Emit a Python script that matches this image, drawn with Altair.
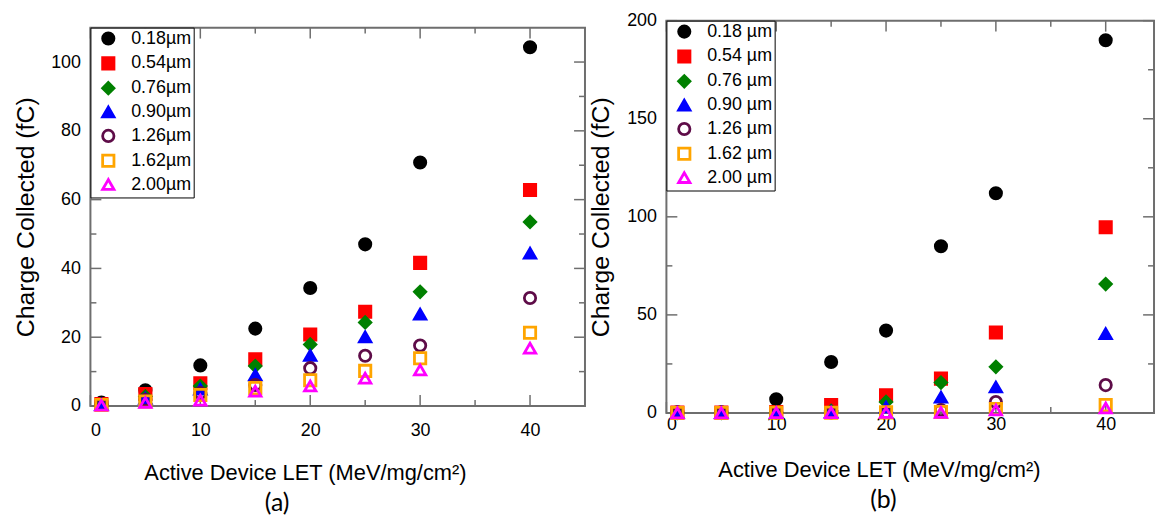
import altair as alt
import pandas as pd

# ---------------- data ----------------
let_vals = [1, 5, 10, 15, 20, 25, 30, 40]

series_a = ["0.18µm", "0.54µm", "0.76µm", "0.90µm", "1.26µm", "1.62µm", "2.00µm"]
series_b = ["0.18 µm", "0.54 µm", "0.76 µm", "0.90 µm", "1.26 µm", "1.62 µm", "2.00 µm"]

a_018 = [1.0, 4.6, 11.8, 22.5, 34.3, 47.0, 70.8, 104.3]
a_054 = [0.6, 3.5, 6.6, 13.6, 20.8, 27.4, 41.6, 62.8]
a_076 = [0.5, 2.8, 5.8, 11.6, 17.9, 24.3, 33.2, 53.5]
a_090 = [0.4, 2.2, 4.9, 9.0, 14.7, 20.1, 26.7, 44.4]
a_126 = [0.4, 1.8, 3.8, 6.1, 11.0, 14.6, 17.6, 31.4]
a_162 = [0.3, 1.3, 3.2, 5.2, 7.5, 10.2, 13.9, 21.3]
a_200 = [0.2, 1.0, 1.7, 4.3, 5.8, 8.1, 10.5, 16.8]

b_018 = [0.3, 0.3, 7.0, 26.0, 42.0, 85.0, 112.0, 190.0]
b_054 = [0.2, 0.2, 0.5, 4.0, 9.0, 17.5, 41.0, 94.7]
b_076 = [0.1, 0.1, 0.3, 1.0, 5.6, 15.5, 23.5, 65.7]
b_090 = [0.1, 0.1, 0.2, 0.5, 3.0, 8.0, 13.2, 40.4]
b_126 = [0.1, 0.1, 0.1, 0.2, 0.5, 1.5, 5.6, 14.2]
b_162 = [0.0, 0.0, 0.1, 0.1, 0.3, 0.5, 2.0, 4.0]
b_200 = [0.0, 0.0, 0.1, 0.1, 0.2, 0.3, 1.5, 2.5]

x_major = [0, 10, 20, 30, 40]
x_minor = [5, 15, 25, 35]
ya_major = [0, 20, 40, 60, 80, 100]
ya_minor = [10, 30, 50, 70, 90]
yb_major = [0, 50, 100, 150, 200]
yb_minor = [25, 75, 125, 175]

shapes = ["circle", "square", "diamond", "triangle-up", "circle", "square", "triangle-up"]
stroke_colors = ["#000000", "#ff0000", "#008000", "#0000ff", "#5e0c48", "#ffa500", "#ff00ff"]
fill_colors = ["#000000", "#ff0000", "#008000", "#0000ff", "transparent", "transparent", "transparent"]

FONT = "Liberation Sans"
FRAME = "#6e6e6e"


def long_df(names, columns):
    rows = []
    for name, vals in zip(names, columns):
        for xv, yv in zip(let_vals, vals):
            rows.append({"x": xv, "y": yv, "series": name})
    return pd.DataFrame(rows)


def panel(names, columns, W, H, xdom, ydom, yticks, ymaj, ymin,
          label_pad_x, title_x, title_y, ytitle_x, tag, tag_dx):
    df = long_df(names, columns)
    xscale = alt.Scale(domain=xdom, nice=False, zero=False)
    yscale = alt.Scale(domain=ydom, nice=False, zero=False)
    xaxis = alt.Axis(values=x_major, ticks=False, domain=False, grid=False,
                     labelFont=FONT, labelFontSize=18, labelColor="black",
                     labelPadding=label_pad_x, format="d",
                     title="Active Device LET (MeV/mg/cm²)",
                     titleFont=FONT, titleFontSize=22, titleFontWeight="normal",
                     titleColor="black", titleX=title_x, titleY=title_y,
                     titleAlign="center", titleBaseline="top")
    yaxis = alt.Axis(values=yticks, ticks=False, domain=False, grid=False,
                     labelFont=FONT, labelFontSize=18, labelColor="black",
                     labelPadding=10, format="d",
                     title="Charge Collected (fC)",
                     titleFont=FONT, titleFontSize=25, titleFontWeight="normal",
                     titleColor="black", titleX=ytitle_x, titleY=H / 2,
                     titleAngle=270, titleAlign="center", titleBaseline="middle")
    X = alt.X("x:Q", scale=xscale, axis=xaxis)
    Y = alt.Y("y:Q", scale=yscale, axis=yaxis)

    legend = alt.Legend(title=None, orient="top-left", offset=0, padding=2,
                        strokeColor="black", fillColor="white",
                        labelFont=FONT, labelFontSize=18, labelColor="black",
                        symbolSize=130, symbolStrokeWidth=2.8, rowPadding=1,
                        symbolOffset=7, labelOffset=14, cornerRadius=0)
    pts = alt.Chart(df).mark_point(size=130, strokeWidth=2.8, opacity=1).encode(
        x=X, y=Y,
        shape=alt.Shape("series:N", scale=alt.Scale(domain=names, range=shapes), legend=legend),
        stroke=alt.Stroke("series:N", scale=alt.Scale(domain=names, range=stroke_colors), legend=legend),
        fill=alt.Fill("series:N", scale=alt.Scale(domain=names, range=fill_colors), legend=legend),
        order=alt.Order("idx:Q"),
    ).transform_calculate(idx="indexof(%s, datum.series)" % str(names).replace("'", '"'))

    def xt(vals, length):
        d = pd.DataFrame({"x": vals})
        top = alt.Chart(d).mark_rule(color=FRAME, strokeWidth=1.5).encode(
            x=X, y=alt.value(0), y2=alt.value(length))
        bot = alt.Chart(d).mark_rule(color=FRAME, strokeWidth=1.5).encode(
            x=X, y=alt.value(H), y2=alt.value(H - length))
        return [top, bot]

    def yt(vals, length):
        d = pd.DataFrame({"y": vals})
        left = alt.Chart(d).mark_rule(color=FRAME, strokeWidth=1.5).encode(
            y=Y, x=alt.value(0), x2=alt.value(length))
        right = alt.Chart(d).mark_rule(color=FRAME, strokeWidth=1.5).encode(
            y=Y, x=alt.value(W), x2=alt.value(W - length))
        return [left, right]

    layers = xt(x_major, 11) + xt(x_minor, 6) + yt(ymaj, 11) + yt(ymin, 6) + [pts]
    return alt.layer(*layers).properties(
        width=W, height=H,
        title=alt.TitleParams(tag, orient="bottom", font="Lato", fontSize=25,
                              fontWeight="normal", color="black", dx=tag_dx,
                              offset=8, frame="group", anchor="middle"),
    )


pa = panel(series_a, [a_018, a_054, a_076, a_090, a_126, a_162, a_200],
           498, 381, [0, 45], [0, 110], ya_major, ya_major, ya_minor,
           16, 216, 57, -65, "(a)", -61)
pb = panel(series_b, [b_018, b_054, b_076, b_090, b_126, b_162, b_200],
           491, 395, [0, 44.4], [0, 200], yb_major, yb_major, yb_minor,
           3, 214, 47, -66, "(b)", -27)

chart = alt.hconcat(pa, pb, spacing=82, bounds="flush", center=True).resolve_scale(
    x="independent", y="independent", shape="independent",
    stroke="independent", fill="independent"
).configure_view(stroke=FRAME, strokeWidth=2).properties(
    padding={"left": 5, "top": 1, "right": 0, "bottom": 0}
)

chart.save("out.html", embed_options={"renderer": "svg", "actions": False})
